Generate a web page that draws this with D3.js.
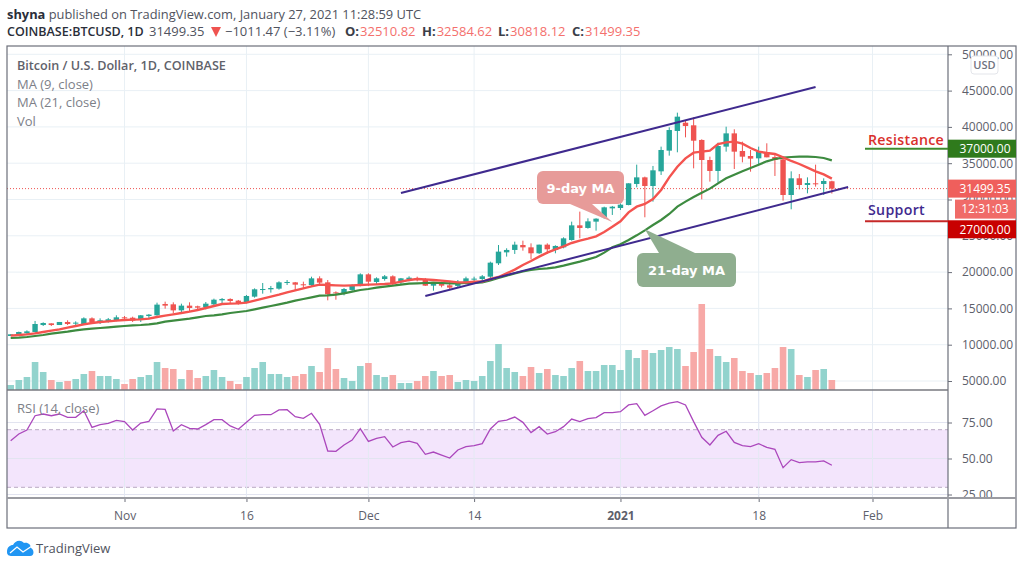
<!DOCTYPE html>
<html>
<head>
<meta charset="utf-8">
<title>BTCUSD</title>
<script src="https://cdn.jsdelivr.net/npm/d3@7"></script>
<style>
    html, body { margin: 0; padding: 0; background: #fff; }
    svg { display: block; font-family: "Open Sans", sans-serif; }
</style>
</head>
<body>
<svg id="chart" width="1024" height="568"></svg>
<script>
// daily candles, first one is 2020-10-18
const firstDay = "2020-10-18";
const opens = [11200,11290,11570,11750,12710,12940,12710,13130,12900,12850,13630,13080,13170,13310,13770,13720,13400,13950,14050,15610,15560,14730,15380,15290,15150,15560,16110,16300,16070,15790,16620,17580,17630,17720,18500,18590,18320,18220,19140,18590,17210,17030,17540,18130,19690,18640,19050,19420,18590,19000,19190,19000,18130,18450,18180,18090,18640,18960,19050,19370,21210,22720,23050,23730,23410,22590,23780,23050,23410,24420,26440,26080,26950,27550,28780,28830,29240,32140,33050,31860,33880,36730,39440,40580,40220,38200,35440,33930,37280,39110,36680,35990,35670,36500,35850,35530,30620,32920,32000,32230,32140,32510.82];
const highs = [11430,11800,11980,13270,13080,12950,13130,13360,13220,13770,13770,13630,13680,14050,13950,13860,14090,14230,15790,15930,15840,15650,15840,15380,15880,16340,16430,16390,16160,16850,17760,18500,18090,18730,18910,18640,18680,19370,19420,18910,17350,17810,18320,19830,19830,19280,19600,19560,19190,19420,19370,19190,18590,18680,18640,18910,19370,19370,19600,21440,23730,23280,24190,24330,23960,23780,23960,23690,24790,26950,28330,27410,27410,29010,29110,29470,32230,34800,33150,34620,37280,39940,41960,40950,41320,38290,35900,37830,40030,39670,37970,36820,37280,37740,36130,35900,33880,33510,33050,34800,32920,32584.62];
const lows = [11200,11200,11480,11660,12580,12580,12710,12710,12670,12760,12850,12850,13040,13220,13310,13130,13130,13500,14000,14960,14320,14320,14600,14780,14870,15330,15700,15610,15520,15700,16480,17030,17170,17580,18220,17540,17760,18090,18220,16110,16200,16800,17440,18040,18090,18270,18820,18220,18360,18730,18730,18090,17440,17900,17630,17900,18320,18550,18820,19190,20980,22130,22500,22950,21760,22500,22500,22590,23280,24330,24650,25980,25710,27360,27870,28560,29200,31680,27550,29700,33380,36040,36500,38560,34290,30020,32460,32320,36590,34200,35120,33830,34750,35810,33240,29840,28650,31400,30850,31770,30620,30818.12];
const closes = [11430,11750,11840,12850,12990,12710,13130,12850,13040,13630,13130,13360,13500,13770,13630,13310,14050,14140,15520,15380,14730,15380,15060,15100,15650,16200,16300,16020,15700,16710,17630,17670,17810,18590,18640,18270,18270,19140,18550,16940,17120,17670,18130,19690,18680,19140,19420,18360,19140,19230,18960,18130,18500,18130,17860,18640,19140,19100,19420,21300,22820,23050,23780,23410,22590,23780,23140,23600,24650,26440,26080,26990,27360,28920,29010,29290,32230,33050,31860,34020,36820,39570,41410,40120,38100,35440,33930,37370,39110,36590,35900,35630,36590,35810,35440,30620,32920,32000,32270,32140,32550,31499.35];
// volume in thousands (arbitrary unit)
const volumes = [5,10,13,28,18,10,8,9,11,16,19,14,14,11,6,11,13,15,28,22,21,11,20,12,14,20,13,9,6,13,22,28,16,16,13,14,16,24,18,42,21,12,9,24,27,15,13,15,7,7,9,14,19,14,15,8,10,9,14,29,46,22,18,14,23,17,21,15,14,22,29,19,19,25,25,20,40,32,40,37,40,43,41,24,38,86,41,34,28,32,19,17,15,17,22,43,41,15,13,20,21,10];
const ma9 = [11245,11337,11429,11566,11750,11934,12117,12347,12577,12806,12990,13127,13219,13311,13403,13449,13495,13587,13816,14000,14183,14367,14551,14780,15056,15331,15607,15652,15698,15790,16066,16341,16617,16892,17213,17489,17764,18040,18269,18223,18178,18132,18178,18223,18269,18315,18361,18453,18683,18912,19050,19004,18912,18820,18728,18591,18591,18683,18700,19051,19327,19832,20337,20980,21530,22127,22678,23137,23551,24010,24331,24606,24928,25525,26259,26994,28233,29014,29381,30070,31309,33054,34523,35671,36451,36589,36727,37645,37874,37966,37691,37094,36589,36405,36268,35808,35303,34890,34385,33880,33467,32870];
const ma21 = [10924,10970,11061,11199,11337,11521,11658,11796,11980,12117,12209,12301,12393,12485,12577,12668,12714,12806,12944,13173,13311,13449,13587,13770,13954,14046,14183,14367,14505,14642,14872,15102,15331,15561,15790,16066,16295,16525,16754,16800,16892,17076,17305,17535,17673,17856,17994,18132,18269,18407,18453,18499,18545,18499,18453,18453,18499,18499,18592,18868,19189,19510,19832,20107,20291,20429,20520,20658,20888,21163,21439,21760,22081,22678,23413,23826,24423,25066,25754,26489,27177,28004,29014,29702,30345,30942,31493,32227,32916,33421,33880,34339,34798,35258,35579,35763,35854,35900,35900,35854,35717,35395];
const rsi = [62.4,67.0,69.8,79.7,80.9,79.7,80.9,78.6,78.6,83.2,71.6,73.5,74.4,76.5,75.6,69.8,74.6,75.8,84.4,84.1,69.1,73.5,70.9,70.5,73.5,77.0,77.0,72.6,70.3,75.1,80.0,80.4,80.4,83.7,83.9,79.0,77.9,81.4,73.7,55.2,55.0,59.4,62.8,70.7,61.9,64.0,65.2,58.0,61.0,62.1,60.5,52.9,54.5,52.4,50.3,55.9,58.2,58.9,60.3,70.5,75.8,76.7,78.8,75.1,68.0,72.1,67.0,68.6,72.1,77.4,75.6,77.7,78.4,81.8,81.8,82.5,87.2,88.1,80.0,83.2,86.5,88.5,89.5,87.2,75.6,64.7,59.4,66.1,68.9,61.2,58.9,58.2,60.3,57.7,56.4,43.6,49.2,47.1,47.6,47.6,48.3,45.3];

const priceTicks = [5000,10000,15000,20000,25000,30000,35000,40000,45000,50000];
const rsiTicks = [25,50,75];
const timeTicks = [["2020-11-01","Nov"],["2020-11-16","16"],["2020-12-01","Dec"],["2020-12-14","14"],["2021-01-01","2021"],["2021-01-18","18"],["2021-02-01","Feb"]];

// hand drawn lines on the chart
const upperTrend = [["2020-12-05",30895],["2021-01-25",45496]];
const lowerTrend = [["2020-12-08",16708],["2021-01-29",31722]];
const resistance = 37000;
const support = 27000;
const lastPrice = 31499.35;
const countdown = "12:31:03";

const parseDay = d3.utcParse("%Y-%m-%d");
const dates = d3.utcDay.range(parseDay(firstDay), d3.utcDay.offset(parseDay(firstDay), closes.length));

// frame of the chart
const plotLeft = 7, plotRight = 948, outerRight = 1016, plotTop = 46, mainBottom = 390, rsiBottom = 498, frameBottom = 528;

const svg = d3.select("#chart");
const defs = svg.append("defs");
defs.append("clipPath").attr("id", "main-clip").append("rect")
    .attr("x", plotLeft).attr("y", plotTop).attr("width", plotRight - plotLeft).attr("height", mainBottom - plotTop);
defs.append("clipPath").attr("id", "rsi-clip").append("rect")
    .attr("x", plotLeft).attr("y", mainBottom).attr("width", plotRight - plotLeft).attr("height", rsiBottom - mainBottom);
// this one is used on a group that is already moved to plotRight
defs.append("clipPath").attr("id", "rsi-axis-clip").append("rect")
    .attr("x", 0).attr("y", mainBottom).attr("width", outerRight - plotRight).attr("height", rsiBottom - mainBottom);

// scales
const x = d3.scaleUtc().domain([parseDay("2020-11-01"), parseDay("2021-02-01")]).range([124.5, 872.5]);
const y = d3.scaleLinear().domain([5000, 50000]).range([381, 54.3]);
const yVol = d3.scaleLinear().domain([0, 86]).range([mainBottom, 304]);
const yRsi = d3.scaleLinear().domain([25, 75]).range([494.5, 422.5]);

//----------------------------
// grid
const grid = svg.append("g").attr("stroke", "#e9f0f5").attr("stroke-width", 1);
grid.selectAll("line.v").data(timeTicks).enter().append("line")
    .attr("class", "v")
    .attr("x1", d => x(parseDay(d[0]))).attr("x2", d => x(parseDay(d[0])))
    .attr("y1", plotTop).attr("y2", rsiBottom);
grid.selectAll("line.h").data(priceTicks).enter().append("line")
    .attr("class", "h")
    .attr("x1", plotLeft).attr("x2", plotRight)
    .attr("y1", d => y(d)).attr("y2", d => y(d));

//----------------------------
// volume
const barWidth = 6.6;
const isUp = i => closes[i] >= opens[i];
svg.append("g").attr("clip-path", "url(#main-clip)")
    .selectAll("rect").data(volumes).enter().append("rect")
    .attr("x", (d, i) => x(dates[i]) - barWidth / 2)
    .attr("width", barWidth)
    .attr("y", d => yVol(d))
    .attr("height", d => yVol(0) - yVol(d))
    .attr("fill", (d, i) => isUp(i) ? "#92d3cd" : "#f7a9a7");

// last price line
svg.append("line")
    .attr("x1", plotLeft).attr("x2", plotRight)
    .attr("y1", y(lastPrice)).attr("y2", y(lastPrice))
    .attr("stroke", "#ef5350").attr("stroke-width", 1).attr("stroke-dasharray", "1 2");

//----------------------------
// candles
const candles = svg.append("g").attr("clip-path", "url(#main-clip)");
candles.selectAll("line").data(dates).enter().append("line")
    .attr("x1", d => x(d)).attr("x2", d => x(d))
    .attr("y1", (d, i) => y(highs[i])).attr("y2", (d, i) => y(lows[i]))
    .attr("stroke", (d, i) => isUp(i) ? "#26a69a" : "#ef5350")
    .attr("stroke-width", 1);
candles.selectAll("rect").data(dates).enter().append("rect")
    .attr("x", d => x(d) - 2.7)
    .attr("width", 5.4)
    .attr("y", (d, i) => y(Math.max(opens[i], closes[i])))
    .attr("height", (d, i) => Math.max(1, Math.abs(y(opens[i]) - y(closes[i]))))
    .attr("fill", (d, i) => isUp(i) ? "#26a69a" : "#ef5350");

// moving averages
const maLine = d3.line().x((d, i) => x(dates[i])).y(d => y(d));
const overlays = svg.append("g").attr("clip-path", "url(#main-clip)");
overlays.append("path").attr("d", maLine(ma21))
    .attr("fill", "none").attr("stroke", "#3d8b40").attr("stroke-width", 2.2);
overlays.append("path").attr("d", maLine(ma9))
    .attr("fill", "none").attr("stroke", "#f4534f").attr("stroke-width", 2.4);

// channel
const trendLine = d3.line().x(d => x(parseDay(d[0]))).y(d => y(d[1]));
[upperTrend, lowerTrend].forEach(t => {
    overlays.append("path").attr("d", trendLine(t))
        .attr("fill", "none").attr("stroke", "#3f2a8e").attr("stroke-width", 2);
});

//----------------------------
// callouts, tips sit on the moving averages
function callout(day, value, boxLeft, boxTop, boxW, boxH, tail, color, label) {
    const tipX = x(parseDay(day)), tipY = y(value);
    const g = svg.append("g");
    g.append("path")
        .attr("d", d3.line()([[tipX, tipY], [boxLeft + tail[0], tail[2]], [boxLeft + tail[1], tail[2]]]) + "Z")
        .attr("fill", color);
    g.append("rect")
        .attr("x", boxLeft).attr("y", boxTop).attr("width", boxW).attr("height", boxH)
        .attr("rx", 6).attr("fill", color);
    g.append("text")
        .attr("x", boxLeft + boxW / 2).attr("y", boxTop + boxH / 2 + 5)
        .attr("text-anchor", "middle")
        .attr("fill", "#fff")
        .attr("font-family", "DejaVu Sans")
        .attr("font-weight", "bold")
        .attr("font-size", 13)
        .text(label);
}
callout("2020-12-31", 26900, 537, 171, 87, 33, [33, 55, 204], "#e79b99", "9-day MA");
callout("2021-01-04", 25900, 637, 253, 99, 34, [22, 58, 253], "#8fae8f", "21-day MA");

//----------------------------
// rsi pane
const band = svg.append("g");
band.append("rect")
    .attr("x", plotLeft).attr("width", plotRight - plotLeft)
    .attr("y", yRsi(70)).attr("height", yRsi(30) - yRsi(70))
    .attr("fill", "#f3e5fc");
band.selectAll("line.grid").data(rsiTicks).enter().append("line")
    .attr("class", "grid")
    .attr("x1", plotLeft).attr("x2", plotRight)
    .attr("y1", d => yRsi(d)).attr("y2", d => yRsi(d))
    .attr("stroke", "#e2e4f0");
band.selectAll("line.limit").data([70, 30]).enter().append("line")
    .attr("class", "limit")
    .attr("x1", plotLeft).attr("x2", plotRight)
    .attr("y1", d => yRsi(d)).attr("y2", d => yRsi(d))
    .attr("stroke", "#b9a9c4").attr("stroke-dasharray", "4 3");
band.selectAll("line.v").data(timeTicks).enter().append("line")
    .attr("class", "v")
    .attr("x1", d => x(parseDay(d[0]))).attr("x2", d => x(parseDay(d[0])))
    .attr("y1", mainBottom).attr("y2", rsiBottom)
    .attr("stroke", "#e4e9f3");

const rsiLine = d3.line().x((d, i) => x(dates[i])).y(d => yRsi(d));
svg.append("path").attr("d", rsiLine(rsi))
    .attr("clip-path", "url(#rsi-clip)")
    .attr("fill", "none").attr("stroke", "#ab47bc").attr("stroke-width", 1.3);

//----------------------------
// axes
const priceAxis = d3.axisRight(y).tickValues(priceTicks).tickFormat(d3.format(".2f")).tickSize(4).tickPadding(10);
const gPrice = svg.append("g").attr("transform", `translate(${plotRight},0)`).call(priceAxis);
const rsiAxis = d3.axisRight(yRsi).tickValues(rsiTicks).tickFormat(d3.format(".2f")).tickSize(4).tickPadding(10);
const gRsi = svg.append("g").attr("transform", `translate(${plotRight},0)`)
    .attr("clip-path", "url(#rsi-axis-clip)").call(rsiAxis);
const timeAxis = d3.axisBottom(x)
    .tickValues(timeTicks.map(d => parseDay(d[0])))
    .tickFormat((d, i) => timeTicks[i][1])
    .tickSize(4).tickPadding(9);
const gTime = svg.append("g").attr("transform", `translate(0,${rsiBottom})`).call(timeAxis);
[gPrice, gRsi, gTime].forEach(g => {
    g.select(".domain").remove();
    g.selectAll("line").attr("stroke", "#6c6f7a");
    g.selectAll("text").attr("fill", "#5d606b").attr("font-size", 12).attr("font-family", "Open Sans");
});
gTime.selectAll("text").filter(d => d.getUTCMonth() === 0 && d.getUTCDate() === 1)
    .attr("font-weight", "bold");

// frame and pane separators
const frame = svg.append("g").attr("fill", "none");
frame.append("rect").attr("x", plotLeft).attr("y", plotTop)
    .attr("width", outerRight - plotLeft).attr("height", frameBottom - plotTop)
    .attr("stroke", "#6c6f7a").attr("stroke-width", 1.2);
frame.append("line").attr("x1", plotRight).attr("x2", plotRight).attr("y1", plotTop).attr("y2", frameBottom)
    .attr("stroke", "#6c6f7a").attr("stroke-width", 1.2);
frame.append("line").attr("x1", plotLeft).attr("x2", plotRight).attr("y1", mainBottom).attr("y2", mainBottom)
    .attr("stroke", "#77787f").attr("stroke-width", 1.6);
frame.append("line").attr("x1", plotLeft).attr("x2", outerRight).attr("y1", rsiBottom).attr("y2", rsiBottom)
    .attr("stroke", "#9a9ba1").attr("stroke-width", 2);

//----------------------------
// resistance and support
function levelLine(price, color) {
    svg.append("line")
        .attr("x1", 865).attr("x2", plotRight)
        .attr("y1", y(price)).attr("y2", y(price))
        .attr("stroke", color).attr("stroke-width", 2);
}
levelLine(resistance, "#3d8b2f");
levelLine(support, "#c62828");
function levelText(label, price, dy, color) {
    svg.append("text")
        .attr("x", 868).attr("y", y(price) + dy)
        .attr("fill", color)
        .attr("font-size", 14.2)
        .attr("font-weight", 600)
        .attr("letter-spacing", 0.3)
        .text(label);
}
levelText("Resistance", resistance, -4, "#d9302c");
levelText("Support", support, -6, "#3f2a8e");

// tags on the price axis, the lower ones get pushed down so they don't cover each other
function priceTag(label, cy, color, xStart, h) {
    svg.append("rect")
        .attr("x", xStart).attr("y", cy - h / 2)
        .attr("width", outerRight - xStart).attr("height", h)
        .attr("fill", color);
    svg.append("text")
        .attr("x", 985).attr("y", cy + 4.3)
        .attr("text-anchor", "middle")
        .attr("fill", "#fff")
        .attr("font-size", 12)
        .text(label);
}
priceTag(d3.format(".2f")(resistance), y(resistance), "#2f7a1c", plotRight, 18);
priceTag(d3.format(".2f")(lastPrice), y(lastPrice), "#ef5f5c", plotRight, 18);
priceTag(countdown, y(lastPrice) + 20.5, "#f06b68", plotRight + 7, 19);
priceTag(d3.format(".2f")(support), y(support) + 8, "#c80000", plotRight, 18);

// USD button
svg.append("rect").attr("x", 971).attr("y", 56).attr("width", 27).attr("height", 18)
    .attr("rx", 3).attr("fill", "#fff").attr("stroke", "#e3e5ea");
svg.append("text").attr("x", 984.5).attr("y", 69).attr("text-anchor", "middle")
    .attr("font-size", 11).attr("font-weight", 600).attr("fill", "#6f7280").text("USD");

//----------------------------
// legends
const legend = svg.append("g").attr("font-size", 13).attr("fill", "#7d8088");
legend.append("text").attr("x", 17).attr("y", 70).attr("font-weight", 600).attr("font-size", 12.6).attr("fill", "#5f626b")
    .text("Bitcoin / U.S. Dollar, 1D, COINBASE");
legend.append("text").attr("x", 17).attr("y", 89).text("MA (9, close)");
legend.append("text").attr("x", 17).attr("y", 107).text("MA (21, close)");
legend.append("text").attr("x", 17).attr("y", 126).text("Vol");
legend.append("text").attr("x", 17).attr("y", 413).text("RSI (14, close)");

// header
const head1 = svg.append("text").attr("x", 7).attr("y", 19).attr("font-size", 12.87).attr("fill", "#50535e");
head1.append("tspan").attr("font-weight", 700).attr("fill", "#2a2e39").text("shyna");
head1.append("tspan").text(" published on TradingView.com, January 27, 2021 11:28:59 UTC");

const head2 = svg.append("g").attr("font-size", 13);
head2.append("text").attr("x", 7).attr("y", 36).attr("font-weight", 600).attr("font-size", 12.5).attr("fill", "#2a2e39")
    .text("COINBASE:BTCUSD, 1D");
head2.append("text").attr("x", 149).attr("y", 36).attr("fill", "#50535e").text("31499.35");
head2.append("path").attr("d", d3.line()([[211, 27], [221, 27], [216, 37]]) + "Z").attr("fill", "#ef5350");
head2.append("text").attr("x", 225).attr("y", 36).attr("fill", "#50535e").text("\u22121011.47 (\u22123.11%)");
const ohlc = [["O:", "32510.82", 345], ["H:", "32584.62", 422], ["L:", "30818.12", 498], ["C:", "31499.35", 572]];
ohlc.forEach(d => {
    const t = head2.append("text").attr("x", d[2]).attr("y", 36);
    t.append("tspan").attr("font-weight", 700).attr("fill", "#3b3e48").text(d[0]);
    t.append("tspan").attr("fill", "#f4706d").attr("dx", 1).text(d[1]);
});

// logo
const logo = svg.append("g");
logo.append("path")
    .attr("d", "M7 552 C7 547 10 545 13 545 C15 541 20 539 24 543 C28 542 31 545 31 548 C34 549 35 556 30 556 L12 556 C9 556 7 555 7 552 Z")
    .attr("fill", "#2196f3");
logo.append("path")
    .attr("d", d3.line()([[10, 553], [17, 547], [23, 552], [32, 546]]))
    .attr("fill", "none").attr("stroke", "#fff").attr("stroke-width", 1.3);
svg.append("text").attr("x", 36).attr("y", 553).attr("font-size", 13).attr("fill", "#50535e").text("TradingView");
</script>
</body>
</html>
